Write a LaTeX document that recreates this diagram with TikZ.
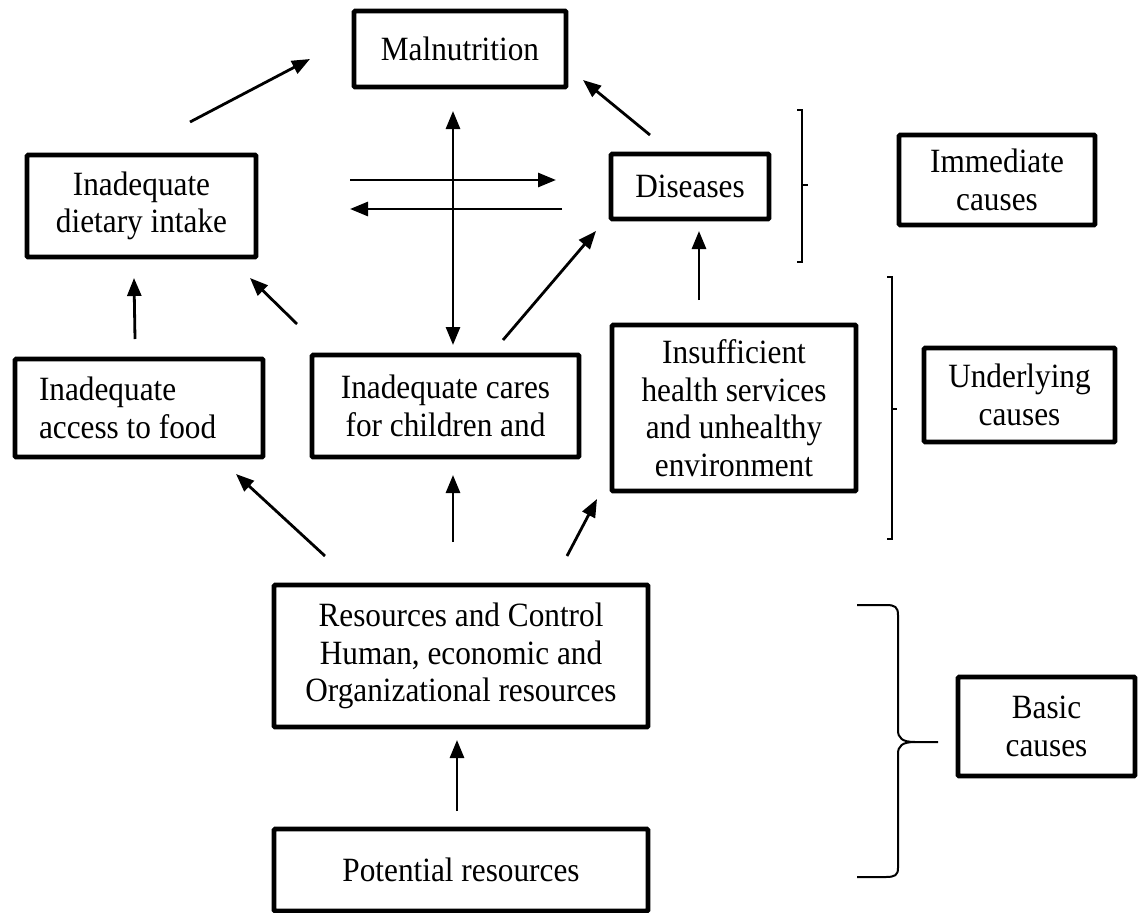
\documentclass[tikz,border=0pt]{standalone}
\usepackage{fontspec}
\setmainfont{Liberation Serif}[FakeStretch=0.92]
\usetikzlibrary{arrows.meta}
\begin{document}
\begin{tikzpicture}[x=1pt,y=-1pt,
  box/.style={draw, line width=4.6pt, inner sep=0pt, align=center, rounded corners=1pt,
    font=\fontsize{34}{37.5}\selectfont},
  arr/.style={line width=2.8pt, -{Triangle[length=18pt,width=14pt]}},
  darr/.style={line width=2.8pt, {Triangle[length=18pt,width=14pt]}-{Triangle[length=18pt,width=14pt]}},
  brk/.style={line width=2pt}]
\useasboundingbox (0,0) rectangle (1138,913);

% boxes
\node[box, minimum width=212pt, minimum height=76pt] (mal) at (460,49) {Malnutrition};
\node[box, minimum width=229pt, minimum height=102pt] (diet) at (141.5,206) {Inadequate\\dietary intake};
\node[box, minimum width=158pt, minimum height=65pt] (dis) at (690,186.5) {Diseases};
\node[box, minimum width=248pt, minimum height=98pt, text width=200pt, align=flush left] (acc) at (139,408) {Inadequate\\access to food};
\node[box, minimum width=267pt, minimum height=102pt] (care) at (445.5,406) {Inadequate cares\\for children and};
\node[box, minimum width=244pt, minimum height=166pt] (ins) at (734,408) {Insufficient\\health services\\and unhealthy\\environment};
\node[box, minimum width=374pt, minimum height=142pt] (res) at (461,656) {Resources and Control\\Human, economic and\\Organizational resources};
\node[box, minimum width=374pt, minimum height=82pt] (pot) at (461,870) {Potential resources};
\node[box, minimum width=196pt, minimum height=90pt] (imm) at (997,180) {Immediate\\causes};
\node[box, minimum width=191pt, minimum height=94pt] (und) at (1019.5,395) {Underlying\\causes};
\node[box, minimum width=177pt, minimum height=99pt] (bas) at (1046.5,726.5) {Basic\\causes};

% arrow end points
\coordinate (a1s) at (190,122);  \coordinate (a1e) at (310,59);
\coordinate (a2s) at (650,135);  \coordinate (a2e) at (583,80);
\coordinate (a3s) at (453,345);  \coordinate (a3e) at (453,111);
\coordinate (a4s) at (350,180);  \coordinate (a4e) at (556,180);
\coordinate (a5s) at (562,209);  \coordinate (a5e) at (350,209);
\coordinate (a6s) at (135,339);  \coordinate (a6e) at (134,278);
\coordinate (a7s) at (297,324);  \coordinate (a7e) at (250,278);
\coordinate (a8s) at (503,340);  \coordinate (a8e) at (596,231);
\coordinate (a9s) at (699,300);  \coordinate (a9e) at (699,231);
\coordinate (a10s) at (325,556); \coordinate (a10e) at (236,474);
\coordinate (a11s) at (453,542); \coordinate (a11e) at (453,475);
\coordinate (a12s) at (567,556); \coordinate (a12e) at (597,499);
\coordinate (a13s) at (457,811); \coordinate (a13e) at (457,740);

\draw[arr] (a1s) -- (a1e);
\draw[arr] (a2s) -- (a2e);
\draw[darr] (a3s) -- (a3e);
\draw[arr] (a4s) -- (a4e);
\draw[arr] (a5s) -- (a5e);
\draw[arr] (a6s) -- (a6e);
\draw[arr] (a7s) -- (a7e);
\draw[arr] (a8s) -- (a8e);
\draw[arr] (a9s) -- (a9e);
\draw[arr] (a10s) -- (a10e);
\draw[arr] (a11s) -- (a11e);
\draw[arr] (a12s) -- (a12e);
\draw[arr] (a13s) -- (a13e);

% brackets
\draw[brk] (797,110) -- (802,110) -- (802,262) -- (797,262);
\draw[brk] (802,185) -- (808,185);
\draw[brk] (887,277) -- (892,277) -- (892,539) -- (887,539);
\draw[brk] (892,409) -- (897,409);
\draw[brk] (857,605) -- (886,605) .. controls (895,605) and (898,607) .. (898,615)
  -- (898,730) .. controls (898,738) and (902,742) .. (915,742) -- (938,742);
\draw[brk] (915,742) .. controls (902,742) and (898,746) .. (898,754)
  -- (898,868) .. controls (898,875) and (895,877) .. (886,877) -- (857,877);
\end{tikzpicture}
\end{document}
